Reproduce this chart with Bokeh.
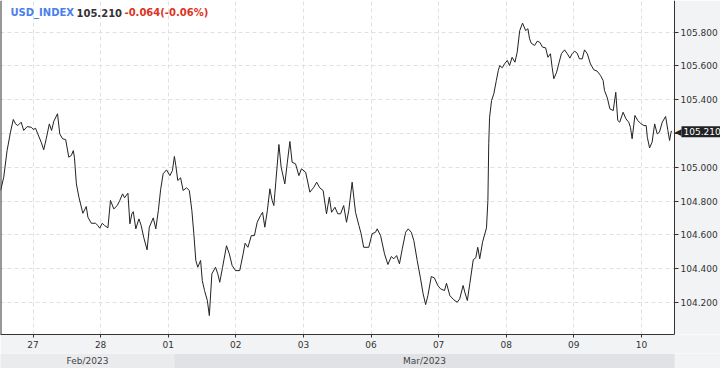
from bokeh.plotting import figure
from bokeh.models import Range1d, FixedTicker, NumeralTickFormatter, Label, BoxAnnotation, Span
from bokeh.layouts import column
from bokeh.embed import file_html
from bokeh.resources import INLINE

# ---- data (hours since 27 Feb 00:00, trading time only) ----
hours = [-11.5, -10.4, -9.2, -8.0, -7.0, -6.2, -5.4, -4.2, -3.3, -2.1, -0.6, 0.1, 0.9, 1.7, 2.9, 3.8,
         4.7, 5.8, 6.6, 7.4, 8.7, 9.5, 10.5, 11.6, 12.7, 13.6, 14.3, 14.7, 15.4, 16.3, 17.7, 18.9,
         19.5, 20.7, 22.2, 23.0, 23.7, 24.6, 25.4, 26.6, 27.5, 28.7, 29.9, 30.8, 31.8, 32.5, 33.7,
         34.4, 35.1, 35.6, 36.5, 37.6, 38.4, 39.3, 40.5, 41.3, 42.7, 43.6, 44.5, 45.3, 46.2, 47.4,
         48.6, 49.5, 50.2, 50.7, 51.4, 52.4, 53.3, 54.5, 55.5, 56.4, 57.1, 57.8, 58.5, 59.5, 60.1,
         60.9, 61.9, 62.6, 63.5, 64.8, 65.6, 66.3, 67.3, 68.7, 69.7, 70.7, 71.9, 73.4, 74.6, 75.3,
         76.3, 77.5, 78.6, 79.6, 80.8, 81.5, 82.3, 83.2, 84.1, 84.9, 85.5, 86.2, 87.3, 88.1, 89.4,
         90.3, 91.2, 92.0, 93.2, 94.4, 95.3, 96.8, 98.3, 99.7, 100.7, 101.8, 103.0, 104.2, 105.2,
         106.0, 107.2, 108.2, 109.2, 110.3, 111.3, 112.1, 113.3, 114.5, 115.7, 116.5, 117.4, 119.2,
         120.4, 121.6, 122.2, 123.4, 124.8, 126.0, 127.2, 128.1, 129.1, 130.1, 131.1, 132.3, 133.2,
         134.3, 135.2, 136.4, 137.6, 138.5, 139.4, 140.2, 141.4, 142.5, 143.7, 144.7, 146.1, 146.8,
         148.0, 149.4, 150.6, 151.5, 152.7, 153.3, 154.2, 155.1, 156.3, 157.2, 157.9, 158.6, 159.6,
         161.0, 161.5, 161.8, 162.1, 162.8, 163.6, 164.5, 165.2, 165.7, 166.6, 167.4, 168.4, 169.2,
         170.1, 171.1, 171.9, 172.8, 173.8, 174.9, 175.7, 176.3, 176.9, 178.1, 179.0, 179.9, 180.9,
         182.0, 182.8, 183.7, 184.3, 184.9, 185.9, 186.8, 187.6, 188.7, 189.7, 190.6, 191.4, 192.3,
         193.2, 194.0, 195.0, 195.8, 196.8, 197.9, 199.1, 200.3, 201.5, 202.4, 202.9, 203.9, 204.8,
         206.0, 206.9, 207.6, 208.3, 209.5, 210.5, 211.5, 212.1, 212.7, 213.7, 214.7, 215.9, 216.9,
         217.7, 218.1, 218.9, 219.8, 220.7, 221.6, 222.4, 223.4, 224.6, 225.4, 226.0, 226.6, 226.9]
prices = [104.863, 104.941, 105.099, 105.208, 105.283, 105.257, 105.247, 105.267, 105.218, 105.241,
          105.237, 105.224, 105.231, 105.198, 105.149, 105.104, 105.169, 105.257, 105.218, 105.273,
          105.317, 105.198, 105.169, 105.164, 105.060, 105.070, 105.099, 105.060, 104.902, 104.823,
          104.728, 104.768, 104.705, 104.669, 104.669, 104.656, 104.640, 104.669, 104.656, 104.642,
          104.804, 104.754, 104.774, 104.804, 104.843, 104.820, 104.847, 104.666, 104.725, 104.738,
          104.636, 104.695, 104.656, 104.586, 104.512, 104.646, 104.701, 104.636, 104.744, 104.867,
          104.962, 104.985, 104.951, 104.981, 105.064, 105.011, 104.922, 104.938, 104.863, 104.879,
          104.863, 104.744, 104.607, 104.449, 104.409, 104.449, 104.330, 104.271, 104.212, 104.123,
          104.370, 104.409, 104.370, 104.320, 104.409, 104.536, 104.488, 104.419, 104.389, 104.389,
          104.488, 104.551, 104.527, 104.596, 104.596, 104.675, 104.715, 104.734, 104.646, 104.744,
          104.873, 104.804, 104.774, 104.912, 105.135, 105.001, 104.902, 105.030, 105.153, 105.030,
          105.021, 104.951, 104.991, 104.971, 104.853, 104.882, 104.912, 104.879, 104.863, 104.725,
          104.823, 104.734, 104.764, 104.725, 104.725, 104.774, 104.675, 104.744, 104.912, 104.734,
          104.656, 104.607, 104.527, 104.527, 104.607, 104.616, 104.636, 104.596, 104.488, 104.425,
          104.472, 104.459, 104.478, 104.429, 104.518, 104.616, 104.636, 104.616, 104.567, 104.449,
          104.340, 104.252, 104.188, 104.241, 104.354, 104.346, 104.301, 104.281, 104.271, 104.314,
          104.241, 104.216, 104.202, 104.222, 104.301, 104.261, 104.212, 104.314, 104.453, 104.465,
          104.527, 104.459, 104.557, 104.642, 104.804, 105.139, 105.296, 105.395, 105.435, 105.514,
          105.573, 105.602, 105.589, 105.612, 105.632, 105.602, 105.651, 105.622, 105.681, 105.809,
          105.853, 105.809, 105.820, 105.760, 105.734, 105.721, 105.746, 105.740, 105.711, 105.707,
          105.651, 105.672, 105.592, 105.524, 105.563, 105.622, 105.672, 105.695, 105.672, 105.646,
          105.672, 105.687, 105.675, 105.642, 105.642, 105.695, 105.672, 105.612, 105.577, 105.569,
          105.543, 105.514, 105.454, 105.411, 105.346, 105.336, 105.444, 105.277, 105.267, 105.326,
          105.287, 105.267, 105.237, 105.169, 105.307, 105.277, 105.257, 105.247, 105.247, 105.178,
          105.115, 105.149, 105.257, 105.198, 105.208, 105.267, 105.301, 105.218, 105.159, 105.214,
          105.210]

day_ticks = [0, 24, 48, 72, 96, 120, 144, 168, 192, 216]
day_labels = ["27", "28", "01", "02", "03", "06", "07", "08", "09", "10"]
y_ticks = [104.2, 104.4, 104.6, 104.8, 105.0, 105.2, 105.4, 105.6, 105.8]
months = ["Feb/2023", "Mar/2023"]
month_from = [-11.54, 50.2]
month_to = [50.2, 227.75]
symbol = "USD_INDEX"
last_price = 105.210
change = -0.064
change_pct = -0.06

FONT = "DejaVu Sans"
PANEL = "#f2f3f5"

x_start, data_end, x_end = -11.54, 227.75, 244.08
xr = Range1d(x_start, x_end)
yr = Range1d(104.011, 105.987)

p = figure(width=720, height=353, x_range=xr, y_range=yr, output_backend="svg",
           toolbar_location=None, y_axis_location="right",
           min_border_left=0, min_border_top=0, min_border_right=0, min_border_bottom=19,
           background_fill_color="white", border_fill_color=PANEL, outline_line_color=None)

for g in (p.xgrid[0], p.ygrid[0]):
    g.grid_line_color = "#e0e0e0"
    g.grid_line_dash = "4 3"

p.line(hours, prices, line_color="#222222", line_width=1)

# grey panel behind the price scale
p.add_layout(BoxAnnotation(left=data_end, fill_color=PANEL, fill_alpha=1, line_color=None,
                           level="glyph"))
# left border of the chart
p.add_layout(Span(location=x_start, dimension="height", line_color="#333333", line_width=2))

# price axis placed at the end of the data window
yax = p.yaxis[0]
yax.fixed_location = data_end
yax.ticker = FixedTicker(ticks=y_ticks)
yax.formatter = NumeralTickFormatter(format="0.000")
xax = p.xaxis[0]
xax.ticker = FixedTicker(ticks=day_ticks)
xax.major_label_overrides = {t: l for t, l in zip(day_ticks, day_labels)}
xax.bounds = (x_start, data_end)
for ax in (yax, xax):
    ax.axis_line_color = "#333333"
    ax.major_tick_line_color = "#333333"
    ax.major_tick_in = 0
    ax.minor_tick_in = 0
    ax.minor_tick_out = 0
    ax.major_label_text_font = FONT
    ax.major_label_text_font_size = "9px"
    ax.major_label_text_color = "#333333"
yax.major_tick_out = 4
yax.major_label_standoff = 2
xax.major_tick_out = 3
xax.major_label_standoff = 3

# title
title_parts = [(10, symbol, "#4a80ee"),
               (76, f"{last_price:.3f}", "#333333"),
               (124, f"{change:.3f}({change_pct:.2f}%)", "#dd3322")]
for tx, txt, col in title_parts:
    p.add_layout(Label(x=tx, y=322, x_units="screen", y_units="screen", text=txt,
                       text_color=col, text_font=FONT, text_font_size="10px",
                       text_font_style="bold", text_baseline="middle"))

# last price marker on the price scale
p.add_layout(Label(x=674, y=last_price, x_units="screen", y_units="data", text="\u25c0",
                   text_color="#222222", text_font=FONT, text_font_size="9px",
                   text_baseline="middle"))
p.add_layout(Label(x=681, y=last_price, x_units="screen", y_units="data", text=f"{last_price:.3f}",
                   text_color="white", text_font=FONT, text_font_size="9px",
                   text_baseline="middle", background_fill_color="#222222", padding=2))

# month band
m = figure(width=720, height=15, x_range=xr, y_range=Range1d(0, 1), output_backend="svg",
           toolbar_location=None, x_axis_type=None, y_axis_type=None,
           min_border_left=0, min_border_top=0, min_border_bottom=0, min_border_right=0,
           background_fill_color=PANEL, border_fill_color=PANEL, outline_line_color=None)
m.grid.visible = False
m.quad(left=month_from, right=month_to, bottom=0, top=1,
       fill_color=["#eaebed", "#e1e2e5"], line_color=None)
m.text(x=[(a + b) / 2 for a, b in zip(month_from, month_to)], y=[0.5, 0.5], text=months,
       text_align="center", text_baseline="middle", text_font_size="9px",
       text_color="#444444", text_font={"value": FONT})

layout = column(p, m, spacing=0)
open("out.html", "w").write(file_html(layout, INLINE))
